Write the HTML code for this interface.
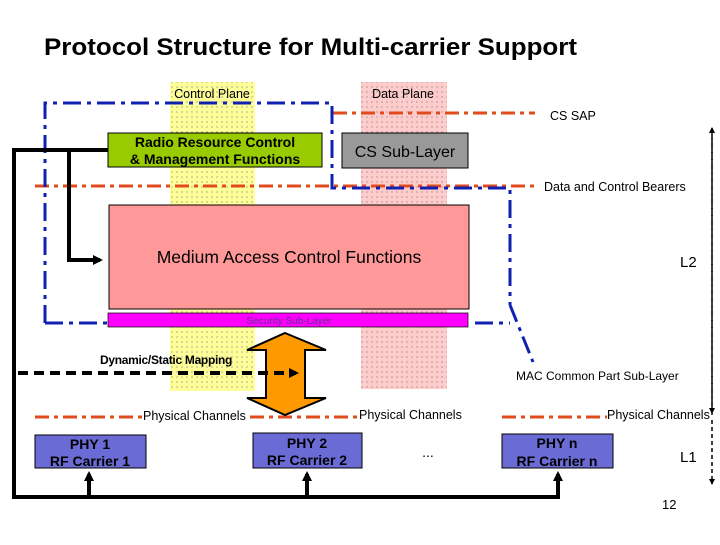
<!DOCTYPE html>
<html><head><style>
body{margin:0;background:#fff;}
svg text{font-family:"Liberation Sans",sans-serif;}
</style></head><body>
<svg width="720" height="540" viewBox="0 0 720 540" xmlns="http://www.w3.org/2000/svg">
<defs>
<pattern id="dots" width="5" height="5" patternUnits="userSpaceOnUse"><circle cx="2" cy="2" r="0.6" fill="#777"/></pattern>
<marker id="ah" markerWidth="10" markerHeight="10" refX="7" refY="5" orient="auto" markerUnits="userSpaceOnUse"><path d="M0,0 L10,5 L0,10z" fill="#000"/></marker>
<marker id="sh" markerWidth="6" markerHeight="6" refX="5" refY="3" orient="auto" markerUnits="userSpaceOnUse"><path d="M0,0 L6,3 L0,6z" fill="#000"/></marker>
</defs>
<text x="44" y="55" font-size="24.5" font-weight="bold" textLength="533" lengthAdjust="spacingAndGlyphs">Protocol Structure for Multi-carrier Support</text>
<rect x="170" y="82" width="85" height="309" fill="#ffff99"/>
<rect x="170" y="82" width="85" height="309" fill="url(#dots)"/>
<rect x="361" y="82" width="86" height="307" fill="#ffcccc"/>
<rect x="361" y="82" width="86" height="307" fill="url(#dots)"/>
<text x="212" y="98" font-size="12.5" text-anchor="middle">Control Plane</text>
<text x="403" y="98" font-size="12.5" text-anchor="middle">Data Plane</text>
<g stroke="#e04a1c" stroke-width="3" stroke-dasharray="14,5,4,5" fill="none">
<line x1="333" y1="113" x2="535" y2="113"/>
<line x1="35" y1="186" x2="538" y2="186"/>
<line x1="35" y1="417" x2="143" y2="417"/>
<line x1="250" y1="417" x2="358" y2="417"/>
<line x1="502" y1="417" x2="607" y2="417"/>
</g>
<text x="550" y="120" font-size="12.5">CS SAP</text>
<text x="544" y="191" font-size="12.5">Data and Control Bearers</text>
<g stroke="#1020b0" stroke-width="3" stroke-dasharray="18,6,4,6" fill="none">
<polyline points="45,323 45,103 332,103 332,188 510,188 510,305"/>
<line x1="45" y1="323" x2="108" y2="323"/>
<line x1="475" y1="323" x2="510" y2="323"/>
<line x1="510" y1="305" x2="533" y2="362"/>
</g>
<rect x="108" y="133" width="214" height="34" fill="#99cc00" stroke="#000"/>
<text x="215" y="147" font-size="14" font-weight="bold" text-anchor="middle">Radio Resource Control</text>
<text x="215" y="164" font-size="14" font-weight="bold" text-anchor="middle">&amp; Management Functions</text>
<rect x="342" y="133" width="126" height="35" fill="#999" stroke="#000"/>
<text x="405" y="157" font-size="16" text-anchor="middle">CS Sub-Layer</text>
<rect x="109" y="205" width="360" height="104" fill="#ff9999" stroke="#000"/>
<text x="289" y="263" font-size="17.5" text-anchor="middle">Medium Access Control Functions</text>
<rect x="108" y="313" width="360" height="14" fill="#ff00ff" stroke="#000" stroke-width="0.7"/>
<text x="289" y="324" font-size="10" fill="#603090" text-anchor="middle">Security Sub-Layer</text>
<text x="680" y="267" font-size="15">L2</text>
<text x="680" y="462" font-size="15">L1</text>
<text x="662" y="509" font-size="13">12</text>
<g stroke="#000" stroke-width="4" fill="none">
<polyline points="108,150 14,150 14,497 560,497"/>
<polyline points="69,150 69,260 100,260" marker-end="url(#ah)"/>
<line x1="89" y1="497" x2="89" y2="474" marker-end="url(#ah)"/>
<line x1="307" y1="497" x2="307" y2="474" marker-end="url(#ah)"/>
<line x1="558" y1="497" x2="558" y2="474" marker-end="url(#ah)"/>
</g>
<path d="M285,333 L326,350 L305,350 L305,398 L326,398 L285,415 L247,398 L266,398 L266,350 L247,350Z" fill="#ff9900" stroke="#000" stroke-width="2"/>
<line x1="18" y1="373" x2="296" y2="373" stroke="#000" stroke-width="4" stroke-dasharray="10,6" marker-end="url(#ah)"/>
<text x="100" y="364" font-size="12" font-weight="bold" letter-spacing="-0.3">Dynamic/Static Mapping</text>
<text x="516" y="380" font-size="12">MAC Common Part Sub-Layer</text>
<text x="143" y="420" font-size="12.5">Physical Channels</text>
<text x="359" y="419" font-size="12.5">Physical Channels</text>
<text x="607" y="419" font-size="12.5">Physical Channels</text>
<g stroke="#000" stroke-width="1.5" stroke-dasharray="4,3" fill="none">
<line x1="712" y1="415" x2="712" y2="128" marker-end="url(#sh)"/>
<line x1="712" y1="128" x2="712" y2="413" marker-end="url(#sh)"/>
<line x1="712" y1="420" x2="712" y2="484" marker-end="url(#sh)"/>
</g>
<g font-size="14" font-weight="bold" text-anchor="middle">
<rect x="35" y="435" width="111" height="33" fill="#6b6bd6" stroke="#000"/>
<text x="90" y="449">PHY 1</text><text x="90" y="466">RF Carrier 1</text>
<rect x="253" y="433" width="109" height="35" fill="#6b6bd6" stroke="#000"/>
<text x="307" y="448">PHY 2</text><text x="307" y="465">RF Carrier 2</text>
<rect x="502" y="434" width="111" height="34" fill="#6b6bd6" stroke="#000"/>
<text x="557" y="448">PHY n</text><text x="557" y="466">RF Carrier n</text>
</g>
<text x="428" y="457" font-size="14" text-anchor="middle">...</text>
</svg>
</body></html>
